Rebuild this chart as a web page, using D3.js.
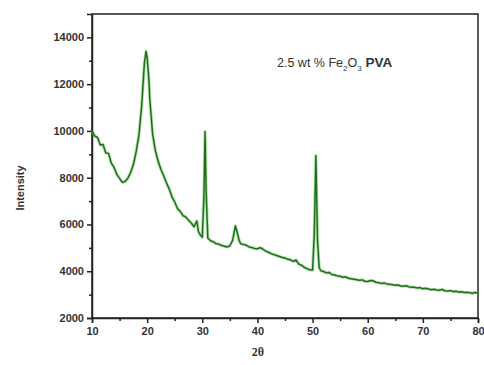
<!DOCTYPE html>
<html>
<head>
<meta charset="utf-8">
<script src="https://cdn.jsdelivr.net/npm/d3@7"></script>
<style>
  body { margin: 0; background: #fff; }
  text { font-family: "Liberation Sans", Arial, sans-serif; }
</style>
</head>
<body>
<div id="chart"></div>
<script>
// 2-theta positions and intensities
const twoTheta = [
  10, 10.5, 11, 11.5, 12, 12.5, 13, 13.5, 14, 14.5, 15, 15.5, 16, 16.5, 17, 17.5, 18, 18.5, 19, 19.5, 19.8,
  20, 20.3, 20.5, 21, 21.5, 22, 22.5, 23, 23.5, 24, 24.5, 25, 25.5, 26, 26.5, 27, 27.5, 28, 28.5, 29, 29.3, 29.6,
  30, 30.3, 30.5, 30.7, 31, 31.5, 32, 32.5, 33, 33.5, 34, 34.5, 35, 35.5, 36, 36.3, 36.7, 37, 37.5, 38, 38.5,
  39, 39.5, 40, 40.5, 41, 41.5, 42, 42.5, 43, 43.5, 44, 44.5, 45, 45.5, 46, 46.5, 47, 47.3, 47.6, 48, 48.5,
  49, 49.5, 50, 50.3, 50.6, 50.9, 51.2, 51.5, 52, 52.5, 53, 53.5, 54, 54.5, 55, 55.5, 56, 56.5, 57, 57.5,
  58, 58.5, 59, 59.5, 60, 60.5, 61, 61.5, 62, 62.5, 63, 63.5, 64, 64.5, 65, 65.5, 66, 66.5, 67, 67.5, 68,
  68.5, 69, 69.5, 70, 70.5, 71, 71.5, 72, 72.5, 73, 73.5, 74, 74.5, 75, 75.5, 76, 76.5, 77, 77.5, 78, 78.5,
  79, 79.5, 80
];
const intensity = [
  10000, 9780, 9720, 9400, 9420, 9060, 9040, 8620, 8440, 8140, 7970, 7800, 7840, 7980, 8220, 8560, 9100, 9800, 11050, 12900, 13400,
  13150, 12250, 11300, 9850, 9150, 8700, 8350, 8080, 7780, 7520, 7180, 6960, 6680, 6560, 6380, 6320, 6180, 6060, 5900, 6150, 5700, 5560,
  5450, 7200, 9970, 7400, 5420, 5300, 5260, 5180, 5160, 5100, 5070, 5040, 5090, 5320, 5940, 5700, 5300, 5170, 5140, 5110, 5040,
  5010, 4970, 4960, 5010, 4940, 4860, 4810, 4750, 4710, 4670, 4630, 4590, 4570, 4510, 4490, 4420, 4480, 4370, 4290, 4260, 4160,
  4110, 4060, 4050, 5500, 8940, 5300, 4150, 4020, 3990, 3930, 3950, 3860, 3840, 3800, 3790, 3740, 3760, 3700, 3680, 3660,
  3640, 3610, 3630, 3570, 3560, 3600, 3590, 3530, 3510, 3480, 3500, 3450, 3440, 3420, 3400, 3410, 3370, 3360, 3380, 3330, 3320,
  3310, 3280, 3300, 3250, 3270, 3240, 3210, 3230, 3200, 3190, 3220, 3160, 3150, 3170, 3130, 3140, 3110, 3120, 3090, 3100, 3080,
  3060, 3090, 3070
];
const xTicks = [10, 20, 30, 40, 50, 60, 70, 80];
const yTicks = [2000, 4000, 6000, 8000, 10000, 12000, 14000];

const data = twoTheta.map((t, i) => ({ t, v: intensity[i] }));

const width = 484, height = 365;
const margin = { top: 14, right: 6, bottom: 47, left: 92 };
const w = width - margin.left - margin.right;
const h = height - margin.top - margin.bottom;

const x = d3.scaleLinear().domain([10, 80]).range([0, w]);
const y = d3.scaleLinear().domain([2000, 15000]).range([h, 0]);

const svg = d3.select("#chart").append("svg")
    .attr("width", width)
    .attr("height", height);
const g = svg.append("g")
    .attr("transform", `translate(${margin.left},${margin.top})`);

// frame
g.append("rect")
    .attr("width", w).attr("height", h)
    .attr("fill", "none").attr("stroke", "#222").attr("stroke-width", 1.5);

// x axis
g.append("g")
    .attr("transform", `translate(0,${h})`)
    .call(d3.axisBottom(x).tickValues(xTicks).tickSize(5).tickPadding(4).tickFormat(d3.format("d")));
g.append("g")
    .attr("transform", `translate(0,${h})`)
    .call(d3.axisBottom(x).tickValues(d3.range(15, 80, 10)).tickSize(3).tickFormat(""))
    .call(a => a.select(".domain").remove());

// y axis
g.append("g")
    .call(d3.axisLeft(y).tickValues(yTicks).tickSize(5).tickPadding(3).tickFormat(d3.format("d")));
g.append("g")
    .call(d3.axisLeft(y).tickValues(d3.range(3000, 15000, 2000)).tickSize(3).tickFormat(""))
    .call(a => a.select(".domain").remove());

svg.selectAll(".tick line").attr("stroke", "#222").attr("stroke-width", 1.5);
svg.selectAll(".domain").attr("stroke", "#222").attr("stroke-width", 1.5);
svg.selectAll(".tick text")
    .attr("font-size", 11).attr("font-weight", "bold").attr("fill", "#333");

// curve
const line = d3.line().x(d => x(d.t)).y(d => y(d.v));
g.append("path")
    .datum(data)
    .attr("d", line)
    .attr("fill", "none")
    .attr("stroke", "#6cc35e")
    .attr("stroke-width", 3.2)
    .attr("stroke-opacity", 0.5)
    .attr("stroke-linejoin", "round");
g.append("path")
    .datum(data)
    .attr("d", line)
    .attr("fill", "none")
    .attr("stroke", "#1f6e1c")
    .attr("stroke-width", 1.5)
    .attr("stroke-linejoin", "round");

// axis titles
svg.append("text")
    .attr("x", 258).attr("y", 356)
    .attr("text-anchor", "middle")
    .attr("font-weight", "bold").attr("font-size", 12).attr("fill", "#333")
    .style("font-family", "'Liberation Serif', serif")
    .text("2θ");
svg.append("text")
    .attr("transform", "translate(24,188) rotate(-90)")
    .attr("text-anchor", "middle")
    .attr("font-weight", "bold").attr("font-size", 11).attr("fill", "#333")
    .text("Intensity");

// annotation
const note = svg.append("text")
    .attr("x", 277).attr("y", 67)
    .attr("font-size", 12.5).attr("fill", "#333");
note.append("tspan").text("2.5 wt % Fe");
note.append("tspan").attr("font-size", 8).attr("dy", 4).text("2");
note.append("tspan").attr("dy", -4).text("O");
note.append("tspan").attr("font-size", 8).attr("dy", 4).text("3");
note.append("tspan").attr("dy", -4).attr("font-weight", "bold").attr("font-size", 13.5).text("  PVA");
</script>
</body>
</html>
